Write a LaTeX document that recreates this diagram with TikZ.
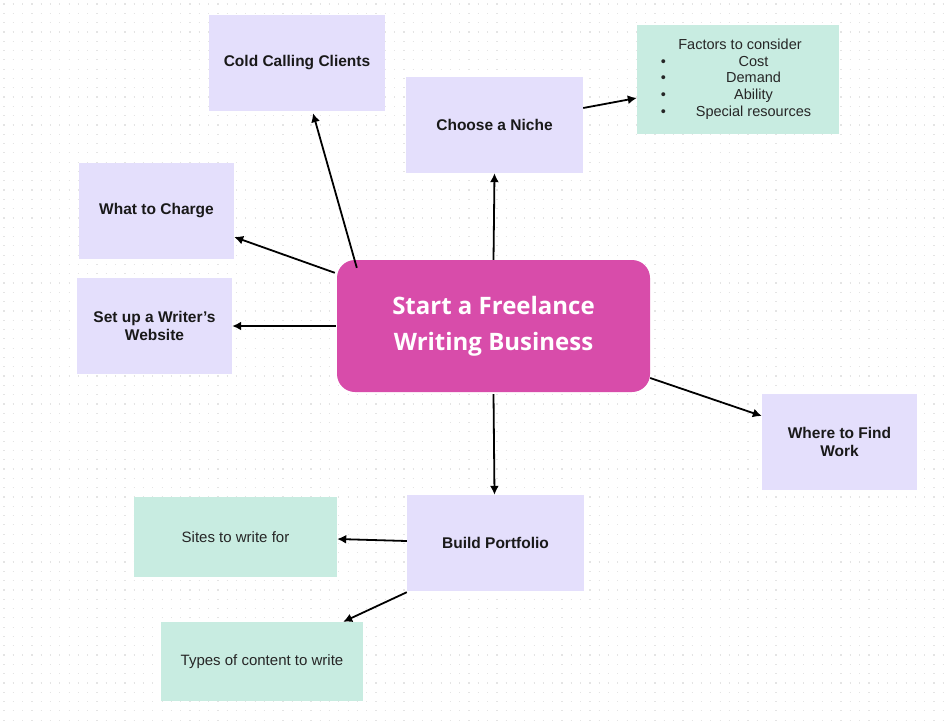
\documentclass[tikz,border=0pt]{standalone}
\usepackage{fontspec}
\setmainfont{Liberation Sans}
\newfontfamily\centerfont{Open Sans}
\usetikzlibrary{arrows.meta,calc}
\definecolor{lav}{RGB}{228,223,252}
\definecolor{mint}{RGB}{200,236,225}
\definecolor{mag}{RGB}{216,76,170}
\definecolor{dotc}{RGB}{228,228,228}
\tikzset{
  box/.style={fill=lav, draw=none, minimum width=#1, align=center, font=\bfseries\fontsize{15.5}{18}\selectfont, text=black!90},
  mbox/.style={fill=mint, draw=none, minimum width=#1, align=center, font=\fontsize{15}{17}\selectfont, text=black!85},
  conn/.style={-{Latex[length=9pt,width=9pt]}, line width=1.8pt, black},
  dotrow/.style={draw=dotc, line width=1.2pt, dash pattern=on 1.2pt off 8.1pt}
}
\begin{document}
\begin{tikzpicture}[x=1pt,y=-1pt]
\useasboundingbox (0,0) rectangle (952,723);
\fill[white] (0,0) rectangle (952,723);
\foreach \j in {0,...,77}{
  \draw[dotrow] (3.4,4+9.3*\j) -- (952,4+9.3*\j);}
% nodes
\node[box=176pt, minimum height=96pt] (cold) at (297,63) {Cold Calling Clients};
\node[box=177pt, minimum height=96pt] (niche) at (494.5,125) {Choose a Niche};
\node[mbox=202pt, minimum height=109pt, font=\fontsize{14.5}{16.8}\selectfont] (fact) at (738,79.5) {%
  \hspace*{-4pt}\begin{tabular}{@{}l@{\hspace{30pt}}c@{}}
  \multicolumn{2}{c}{\hspace{8pt}Factors to consider}\\
  \textbullet & Cost\\
  \textbullet & Demand\\
  \textbullet & Ability\\
  \textbullet & Special resources
  \end{tabular}};
\node[box=155pt, minimum height=96pt] (charge) at (156.5,211) {What to Charge};
\node[box=155pt, minimum height=96pt] (web) at (154.5,326) {Set up a Writer’s\\Website};
\node[fill=mag, rounded corners=18pt, minimum width=313pt, minimum height=132pt, align=center, text=white, font=\centerfont\bfseries\fontsize{24}{36}\selectfont] (c) at (493.5,326) {Start a Freelance\\Writing Business};
\node[box=155pt, minimum height=96pt] (where) at (839.5,442) {Where to Find\\Work};
\node[box=177pt, minimum height=96pt] (port) at (495.5,543) {Build Portfolio};
\node[mbox=203pt, minimum height=80pt] (sites) at (235.5,537) {Sites to write for};
\node[mbox=202pt, minimum height=79pt] (types) at (262,661.5) {Types of content to write};
% connectors
\draw[conn] ($(c.north west)+(20,8)$) -- ($(cold.south)+(16,2)$);
\draw[conn] ($(c.north west)+(-2,13)$) -- ($(charge.east)+(0,26)$);
\draw[conn] ($(c.west)+(-1,0)$) -- (web.east);
\draw[conn] (c.north) -- (niche.south);
\draw[conn] ($(niche.east)+(0,-17)$) -- ($(fact.west)+(0,18.5)$);
\draw[conn] ($(c.east)+(0,52)$) -- ($(where.west)+(0,-26)$);
\draw[conn] ($(c.south)+(0,2)$) -- ($(port.north)+(-1,0)$);
\draw[conn] ($(port.west)+(0,-2)$) -- ($(sites.east)+(0,2)$);
\draw[conn] ($(port.south west)+(0,1)$) -- ($(types.north east)+(-20,0)$);
\end{tikzpicture}
\end{document}
